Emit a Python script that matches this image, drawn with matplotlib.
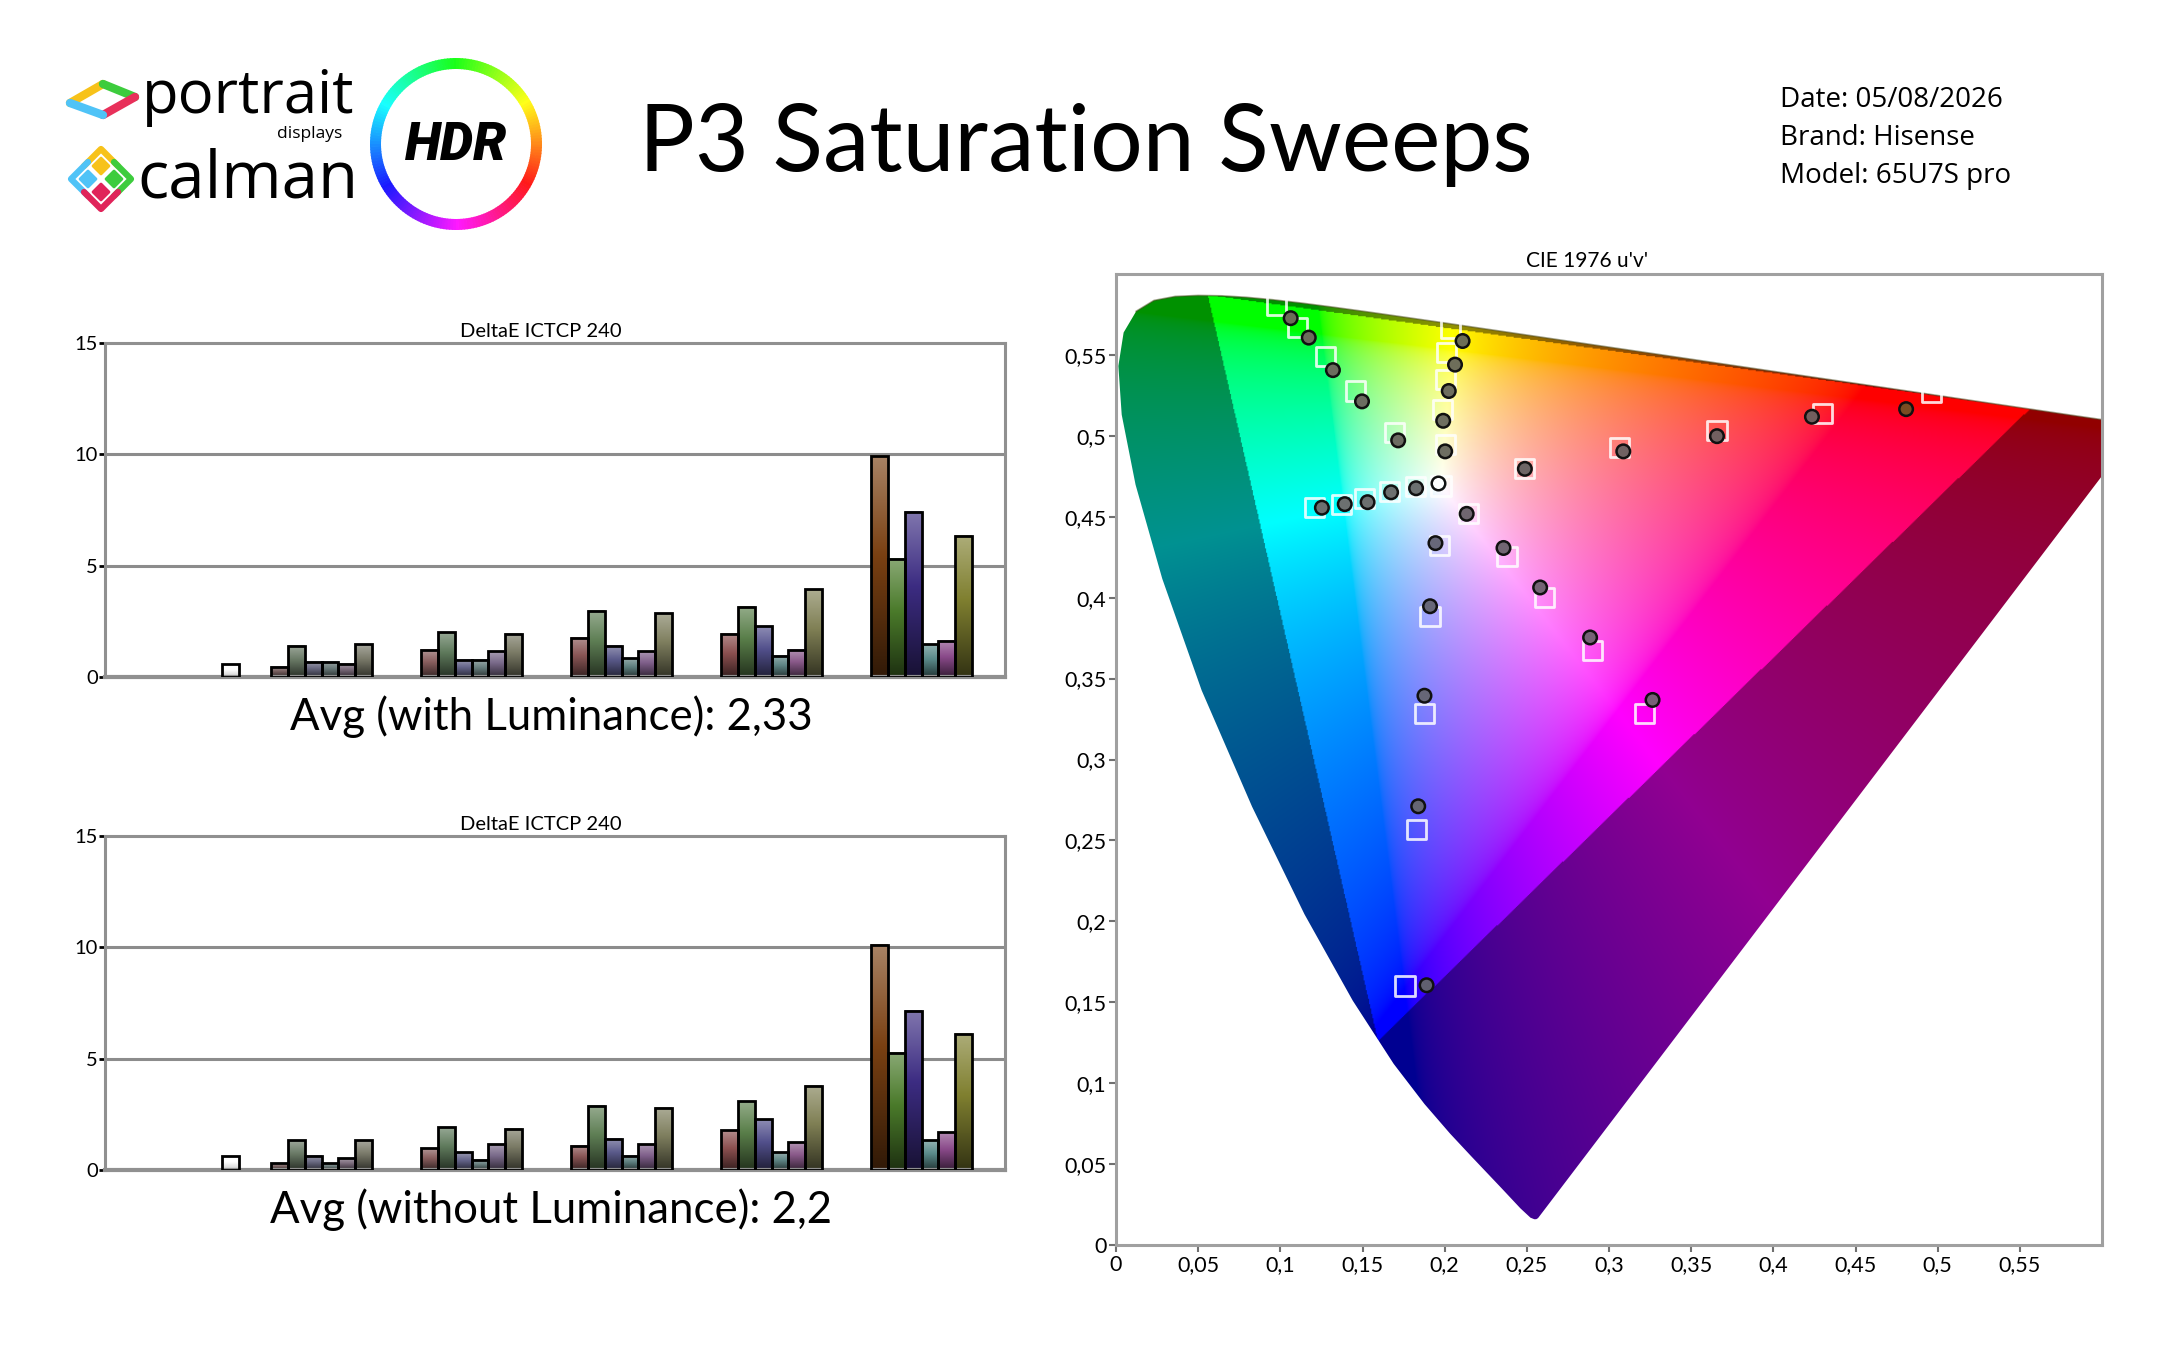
import colorsys
import numpy as np
import matplotlib
matplotlib.use('Agg')
import matplotlib.pyplot as plt
import matplotlib.colors as mcolors
from matplotlib.patches import Polygon, Wedge, Rectangle
from matplotlib.path import Path

plt.rcParams.update({'font.family': ['Lato', 'DejaVu Sans']})

# ── data: DeltaE ICtCp per saturation step (20..100 %) ──────────────────
sat_levels = ['0%', '20%', '40%', '60%', '80%', '100%']
series = ['R', 'G', 'B', 'C', 'M', 'Y', 'W']

white_with = 0.60
red_with = [0.45, 1.23, 1.77, 1.94, 9.93]
green_with = [1.41, 2.01, 2.97, 3.16, 5.31]
blue_with = [0.68, 0.77, 1.41, 2.27, 7.43]
cyan_with = [0.68, 0.77, 0.85, 0.95, 1.48]
magenta_with = [0.60, 1.15, 1.15, 1.23, 1.63]
yellow_with = [1.48, 1.94, 2.86, 3.95, 6.34]

white_without = 0.63
red_without = [0.30, 0.98, 1.09, 1.78, 10.12]
green_without = [1.33, 1.93, 2.89, 3.08, 5.26]
blue_without = [0.63, 0.80, 1.40, 2.27, 7.15]
cyan_without = [0.30, 0.45, 0.63, 0.80, 1.33]
magenta_without = [0.53, 1.16, 1.16, 1.24, 1.69]
yellow_without = [1.33, 1.86, 2.79, 3.78, 6.12]

avg_with = '2,33'
avg_without = '2,2'

# bar colours per saturation step
bar_colors = {
    'R': ['#7a6262', '#8a5f5f', '#8a5656', '#8c5050', '#7a4012'],
    'G': ['#6a7a66', '#5f7a5c', '#5f7f55', '#5a7f4a', '#4a7a2a'],
    'B': ['#6a6a82', '#65658a', '#5a5a8a', '#52508c', '#3c2c82'],
    'C': ['#6a7a7a', '#6a8080', '#5f8080', '#5f8585', '#5a8a8a'],
    'M': ['#7a6a7a', '#7a6a8a', '#7f5f8a', '#8a5a8a', '#8a4a8a'],
    'Y': ['#7a7a6a', '#7a7a65', '#7f7f5f', '#808055', '#808030'],
}

# ── data: CIE 1976 u'v' targets and measurements (20..100 %) ───────────
targ_red_u = [0.2488, 0.3066, 0.3657, 0.4298, 0.4964]
targ_red_v = [0.4800, 0.4929, 0.5032, 0.5140, 0.5268]
meas_red_u = [0.2488, 0.3087, 0.3657, 0.4235, 0.4808]
meas_red_v = [0.4796, 0.4904, 0.4998, 0.5118, 0.5165]

targ_green_u = [0.1696, 0.1459, 0.1274, 0.1105, 0.0979]
targ_green_v = [0.5020, 0.5277, 0.5491, 0.5672, 0.5805]
meas_green_u = [0.1717, 0.1497, 0.1320, 0.1173, 0.1063]
meas_green_v = [0.4972, 0.5213, 0.5406, 0.5607, 0.5727]

targ_blue_u = [0.1970, 0.1911, 0.1877, 0.1826, 0.1759]
targ_blue_v = [0.4320, 0.3883, 0.3286, 0.2570, 0.1600]
meas_blue_u = [0.1944, 0.1911, 0.1877, 0.1839, 0.1890]
meas_blue_v = [0.4337, 0.3947, 0.3394, 0.2711, 0.1605]

targ_cyan_u = [0.1822, 0.1666, 0.1514, 0.1371, 0.1210]
targ_cyan_v = [0.4685, 0.4655, 0.4612, 0.4578, 0.4556]
meas_cyan_u = [0.1826, 0.1674, 0.1531, 0.1392, 0.1253]
meas_cyan_v = [0.4676, 0.4651, 0.4590, 0.4578, 0.4556]

targ_magenta_u = [0.2147, 0.2379, 0.2607, 0.2902, 0.3218]
targ_magenta_v = [0.4518, 0.4252, 0.4003, 0.3672, 0.3286]
meas_magenta_u = [0.2134, 0.2358, 0.2581, 0.2885, 0.3265]
meas_magenta_v = [0.4518, 0.4307, 0.4063, 0.3754, 0.3368]

targ_yellow_u = [0.2003, 0.1987, 0.2003, 0.2012, 0.2037]
targ_yellow_v = [0.4947, 0.5161, 0.5350, 0.5513, 0.5663]
meas_yellow_u = [0.2003, 0.1991, 0.2025, 0.2063, 0.2109]
meas_yellow_v = [0.4904, 0.5093, 0.5277, 0.5440, 0.5586]

targ_white = (0.1978, 0.4690)
meas_white = (0.1957, 0.4711)

# fill of measured dots
dot_colors = {
    'R': ['#6e6666', '#706262', '#726060', '#725e5e', '#7a4c22'],
    'G': ['#6c6c62', '#6c6c60', '#6c6c5e', '#6c6c5c', '#6c6c58'],
    'B': ['#68687a', '#686878', '#666676', '#666674', '#606070'],
    'C': ['#6c7070', '#6c7070', '#6c7070', '#6c7070', '#6c7070'],
    'M': ['#706670', '#726672', '#746474', '#766276', '#786078'],
    'Y': ['#6e6e62', '#6e6e60', '#6e6e5e', '#6e6e5a', '#6e6e56'],
}

# CIE 1931 spectral locus (x, y), 380..700 nm
locus_xy = [
    (0.1741, 0.0050), (0.1733, 0.0048), (0.1726, 0.0048), (0.1714, 0.0051),
    (0.1689, 0.0069), (0.1644, 0.0109), (0.1566, 0.0177), (0.1510, 0.0227),
    (0.1440, 0.0297), (0.1355, 0.0399), (0.1241, 0.0578), (0.1096, 0.0868),
    (0.0913, 0.1327), (0.0687, 0.2007), (0.0454, 0.2950), (0.0235, 0.4127),
    (0.0082, 0.5384), (0.0039, 0.6548), (0.0139, 0.7502), (0.0389, 0.8120),
    (0.0743, 0.8338), (0.1142, 0.8262), (0.1547, 0.8059), (0.1929, 0.7816),
    (0.2296, 0.7543), (0.2658, 0.7243), (0.3016, 0.6923), (0.3373, 0.6589),
    (0.3731, 0.6245), (0.4087, 0.5896), (0.4441, 0.5547), (0.4788, 0.5202),
    (0.5125, 0.4866), (0.5448, 0.4544), (0.5752, 0.4242), (0.6029, 0.3965),
    (0.6270, 0.3725), (0.6658, 0.3340), (0.6915, 0.3083), (0.7079, 0.2920),
    (0.7190, 0.2809), (0.7260, 0.2740), (0.7347, 0.2653),
]
bt2020_uv = [(0.5566, 0.5165), (0.0556, 0.5868), (0.1593, 0.1258)]

FIG_W, FIG_H = 2160, 1350
fig = plt.figure(figsize=(21.6, 13.5), dpi=100)


def px_axes(l, t, r, b):
    return fig.add_axes([l / FIG_W, 1 - b / FIG_H, (r - l) / FIG_W, (b - t) / FIG_H])


# ── bar charts ───────────────────────────────────────────────────────────
cat_w = 8.85
bw = 1 / cat_w


def grad_bar(ax, x0, h, base, white=False):
    base = np.array(mcolors.to_rgb(base))
    t = np.linspace(0, 1, 80)[:, None]
    dark = base * (0.8 if white else 0.4)
    light = base + (1 - base) * 0.35
    col = np.where(t < 0.55, dark + (base - dark) * (t / 0.55),
                   base + (light - base) * ((t - 0.55) / 0.45))
    ax.imshow(col[:, None, :], extent=[x0, x0 + bw, 0, h], origin='lower',
              aspect='auto', zorder=2, interpolation='bilinear')
    ax.add_patch(Rectangle((x0, 0), bw, h, facecolor='none', edgecolor='black',
                           lw=2.0, zorder=3))


def bar_chart(ax, vals, white_val, avg_text, avg_y):
    for s, key in enumerate(series[:-1]):
        for k, v in enumerate(vals[key]):
            cat = k + 1
            grad_bar(ax, cat + (0.925 + s) / cat_w, v, bar_colors[key][k])
    grad_bar(ax, 0 + (0.925 + 6) / cat_w, white_val, '#ffffff', white=True)
    for y in (5, 10):
        ax.axhline(y, color='#8c8c8c', lw=2.2, zorder=1)
    ax.set_xlim(0, 6)
    ax.set_ylim(0, 15)
    ax.set_xticks([])
    ax.set_yticks([0, 5, 10, 15])
    ax.tick_params(axis='y', direction='out', length=4, width=2, color='black',
                   labelsize=14.5, pad=1)
    for sp in ax.spines.values():
        sp.set_color('#909090')
        sp.set_linewidth(2.2)
    ax.spines['bottom'].set_linewidth(3)
    ax.set_title('DeltaE ICTCP 240', fontsize=14.5, pad=4, x=0.484)
    fig.text(551 / FIG_W, 1 - avg_y / FIG_H, avg_text, ha='center', va='center',
             fontsize=31.5)


ax1 = px_axes(105, 343, 1005, 677)
bar_chart(ax1, {'R': red_with, 'G': green_with, 'B': blue_with, 'C': cyan_with,
                'M': magenta_with, 'Y': yellow_with},
          white_with, f'Avg (with Luminance): {avg_with}', 717)

ax2 = px_axes(105, 836, 1005, 1170)
bar_chart(ax2, {'R': red_without, 'G': green_without, 'B': blue_without, 'C': cyan_without,
                'M': magenta_without, 'Y': yellow_without},
          white_without, f'Avg (without Luminance): {avg_without}', 1210)

# ── CIE 1976 u'v' diagram ────────────────────────────────────────────────
def xy_to_uv(x, y):
    d = -2 * x + 12 * y + 3
    return 4 * x / d, 9 * y / d


locus_uv = np.array([xy_to_uv(x, y) for x, y in locus_xy])

ax3 = px_axes(1116, 274, 2102, 1245)
n = 900
uu, vv = np.meshgrid(np.linspace(0, 0.6, n), np.linspace(0, 0.6, n))
den = 6 * uu - 16 * vv + 12
cx = 9 * uu / den
cy = np.clip(4 * vv / den, 1e-4, None)
X = cx / cy
Z = (1 - cx - cy) / cy
M = np.array([[3.2406, -1.5372, -0.4986], [-0.9689, 1.8758, 0.0415], [0.0557, -0.2040, 1.0570]])
rgb = np.stack([M[i, 0] * X + M[i, 1] + M[i, 2] * Z for i in range(3)], axis=-1)
rgb = np.clip(rgb, 0, None)
rgb = rgb / np.maximum(rgb.max(axis=-1, keepdims=True), 1e-6)
rgb = np.where(rgb <= 0.0031308, 12.92 * rgb, 1.055 * rgb ** (1 / 2.4) - 0.055)
inside = Path(bt2020_uv).contains_points(np.c_[uu.ravel(), vv.ravel()]).reshape(uu.shape)
rgb = np.where(inside[..., None], rgb, rgb * 0.57)
im = ax3.imshow(rgb, extent=[0, 0.6, 0, 0.6], origin='lower', interpolation='bilinear',
                aspect='auto', zorder=1)
horseshoe = Polygon(locus_uv, closed=True, transform=ax3.transData, facecolor='none', edgecolor='none')
ax3.add_patch(horseshoe)
im.set_clip_path(horseshoe)
ax3.plot(locus_uv[19:, 0], locus_uv[19:, 1], color='#4a4a20', lw=1.2, alpha=0.5, zorder=2)

targets = [(targ_red_u, targ_red_v), (targ_green_u, targ_green_v), (targ_blue_u, targ_blue_v),
           (targ_cyan_u, targ_cyan_v), (targ_magenta_u, targ_magenta_v), (targ_yellow_u, targ_yellow_v)]
measured = [(meas_red_u, meas_red_v), (meas_green_u, meas_green_v), (meas_blue_u, meas_blue_v),
            (meas_cyan_u, meas_cyan_v), (meas_magenta_u, meas_magenta_v), (meas_yellow_u, meas_yellow_v)]
for (tu, tv) in targets:
    ax3.scatter(tu, tv, marker='s', s=190, facecolor='none', edgecolor=(1, 1, 1, 0.85),
                linewidths=2, zorder=3)
ax3.scatter(*targ_white, marker='s', s=190, facecolor='none', edgecolor=(1, 1, 1, 0.85),
            linewidths=2, zorder=3)
for key, (mu, mv) in zip(series[:-1], measured):
    ax3.scatter(mu, mv, s=95, facecolor=dot_colors[key], edgecolor='#111111', linewidths=1.8, zorder=4)
ax3.scatter(*meas_white, s=95, facecolor='white', edgecolor='#111111', linewidths=1.8, zorder=4)

ticks = np.round(np.arange(0, 0.551, 0.05), 2)
labels = [f'{t:g}'.replace('.', ',') for t in ticks]
ax3.set_xlim(0, 0.6)
ax3.set_ylim(0, 0.6)
ax3.set_xticks(ticks)
ax3.set_xticklabels(labels)
ax3.set_yticks(ticks)
ax3.set_yticklabels(labels)
ax3.tick_params(direction='out', length=5, width=1.5, color='#707070', labelsize=15.5, pad=2)
for sp in ax3.spines.values():
    sp.set_color('#a0a0a0')
    sp.set_linewidth(2.2)
ax3.set_title("CIE 1976 u'v'", fontsize=15, pad=5, x=0.478)

# ── header ───────────────────────────────────────────────────────────────
fig.text(1086 / FIG_W, 1 - 145 / FIG_H, 'P3 Saturation Sweeps', ha='center', va='center',
         fontsize=67)
for i, line in enumerate(['Date: 05/08/2026', 'Brand: Hisense', 'Model: 65U7S pro']):
    fig.text(1780 / FIG_W, 1 - (107 + 38 * i) / FIG_H, line, ha='left', va='baseline',
             fontsize=20, family=['Open Sans', 'DejaVu Sans'])

lg = fig.add_axes([0, 0, 1, 1], zorder=-1)
lg.set_xlim(0, FIG_W)
lg.set_ylim(FIG_H, 0)
lg.axis('off')

# portrait displays logo
pd_pts = {'l': (70, 103), 't': (103, 84), 'r': (135, 97), 'b': (103, 115)}
for a, b, c in [('l', 't', '#f7c21a'), ('t', 'r', '#3dcc3d'), ('r', 'b', '#e8305a'), ('b', 'l', '#4fc3f7')]:
    lg.plot([pd_pts[a][0], pd_pts[b][0]], [pd_pts[a][1], pd_pts[b][1]], color=c, lw=6,
            solid_capstyle='round')
lg.text(142, 113, 'portrait', fontsize=43, ha='left', va='baseline', weight='medium',
        family=['Open Sans', 'DejaVu Sans'])
lg.text(342, 138, 'displays', fontsize=12.5, ha='right', va='baseline',
        family=['Open Sans', 'DejaVu Sans'])

# calman logo
inner = [((101, 166), '#f7c21a'), ((88, 179), '#4fc3f7'), ((114, 179), '#3dcc3d'), ((101, 192), '#e0245a')]
for (cx0, cy0), c in inner:
    d = 8
    lg.add_patch(Polygon([(cx0, cy0 - d), (cx0 + d, cy0), (cx0, cy0 + d), (cx0 - d, cy0)],
                         closed=True, facecolor=c, edgecolor=c, lw=2, joinstyle='round'))
outer = [([(84, 166), (101, 149), (118, 166)], '#f7c21a'),
         ([(88, 162), (71, 179), (88, 196)], '#4fc3f7'),
         ([(114, 162), (131, 179), (114, 196)], '#3dcc3d'),
         ([(84, 192), (101, 209), (118, 192)], '#e0245a')]
for pts, c in outer:
    pts = np.array(pts)
    lg.plot(pts[:, 0], pts[:, 1], color=c, lw=4.5, solid_capstyle='round', solid_joinstyle='round')
lg.text(137, 198, 'calman', fontsize=47, ha='left', va='baseline', weight='medium',
        family=['Open Sans', 'DejaVu Sans'])

# HDR ring
for th in np.arange(0, 360, 2):
    phi = (th + 2 - 270) % 360
    hue = ((120 - phi) % 360) / 360
    c = colorsys.hsv_to_rgb(hue, 0.9, 1.0)
    lg.add_patch(Wedge((456, 144), 86, th, th + 2.5, width=11, facecolor=c, edgecolor='none'))
lg.text(456, 146, 'HDR', fontsize=38, ha='center', va='center', weight='heavy', style='italic',
        family=['Roboto', 'DejaVu Sans'])

fig.savefig('out.png', dpi=100)
